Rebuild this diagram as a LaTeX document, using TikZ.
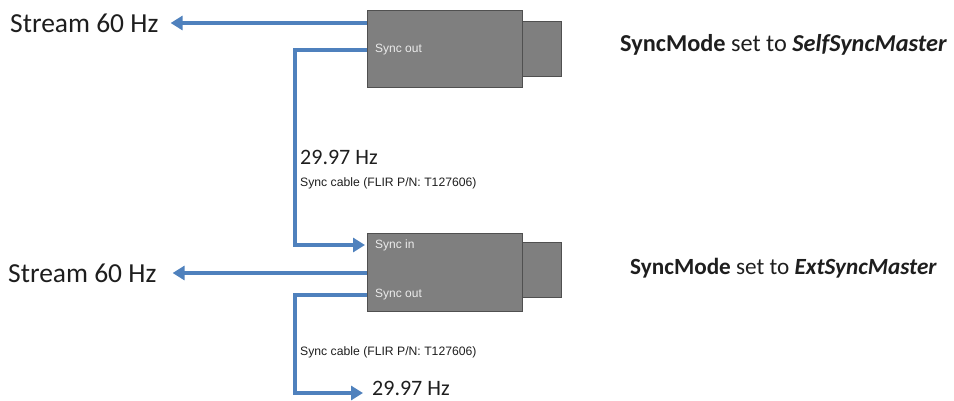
\documentclass[tikz,border=0pt]{standalone}
\usepackage{fontspec}
\setmainfont{Carlito}
\newfontfamily\arialf{Liberation Sans}
\usetikzlibrary{arrows.meta}
\definecolor{sigblue}{RGB}{79,129,189}
\definecolor{bodygray}{RGB}{127,127,127}
\definecolor{edgegray}{RGB}{80,80,80}
\definecolor{txt}{RGB}{30,30,30}
\begin{document}
\begin{tikzpicture}[x=1pt,y=-1pt,
  body/.style={draw=edgegray,line width=1pt,fill=bodygray,inner sep=0pt,anchor=north west},
  portlbl/.style={font=\arialf\fontsize{12}{14}\selectfont,text=white!92!black,anchor=west,inner sep=0pt},
  cablelbl/.style={font=\arialf\fontsize{12.2}{14}\selectfont,text=txt,anchor=west,inner sep=0pt},
  freq/.style={font=\fontsize{22}{26}\selectfont,text=txt,anchor=west,inner sep=0pt},
  stream/.style={font=\fontsize{27.5}{32}\selectfont,text=txt,anchor=west,inner sep=0pt},
  mode/.style={font=\fontsize{24.3}{28}\selectfont,text=txt,anchor=west,inner sep=0pt},
  mode2/.style={font=\fontsize{23.2}{28}\selectfont,text=txt,anchor=west,inner sep=0pt},
  sig/.style={draw=sigblue,line width=4pt,-{Triangle[width=14pt,length=12pt]}},
  sigplain/.style={draw=sigblue,line width=4pt}]
\useasboundingbox (0,0) rectangle (954,400);
% cameras
\node[body,minimum width=39pt,minimum height=55pt] (plug1) at (522,21) {};
\node[body,minimum width=155pt,minimum height=77pt] (cam1) at (367,10) {};
\node[body,minimum width=39pt,minimum height=55pt] (plug2) at (522,242) {};
\node[body,minimum width=155pt,minimum height=78pt] (cam2) at (367,233) {};
% port labels
\node[portlbl] (so1) at (375,50) {Sync out};
\node[portlbl] (si2) at (375,245) {Sync in};
\node[portlbl] (so2) at (375,295) {Sync out};
% texts
\node[stream] (st1) at (10,23) {Stream 60 Hz};
\node[stream] (st2) at (8,273) {Stream 60 Hz};
\node[mode] (m1) at (620,45) {\textbf{SyncMode} set to \textbf{\textit{SelfSyncMaster}}};
\node[mode2] (m2) at (630,268) {\textbf{SyncMode} set to \textbf{\textit{ExtSyncMaster}}};
\node[freq] (f1) at (300,157) {29.97 Hz};
\node[cablelbl] (c1) at (300,183) {Sync cable (FLIR P/N: T127606)};
\node[cablelbl] (c2) at (300,352) {Sync cable (FLIR P/N: T127606)};
\node[freq] (f2) at (372,388) {29.97 Hz};
% connectors
\coordinate (b1) at (295,150);
\coordinate (b2) at (295,393);
\draw[sig] (cam1.west |- st1) -- ([xshift=12pt]st1.east);
\draw[sig] (cam2.west |- st2) -- ([xshift=16pt]st2.east);
\draw[sig] (cam1.west |- so1) -| (b1) |- ([xshift=-2pt]cam2.west |- si2);
\draw[sig] (cam2.west |- so2) -| (b2) -- ([xshift=-9pt]f2.west |- b2);
\end{tikzpicture}
\end{document}
